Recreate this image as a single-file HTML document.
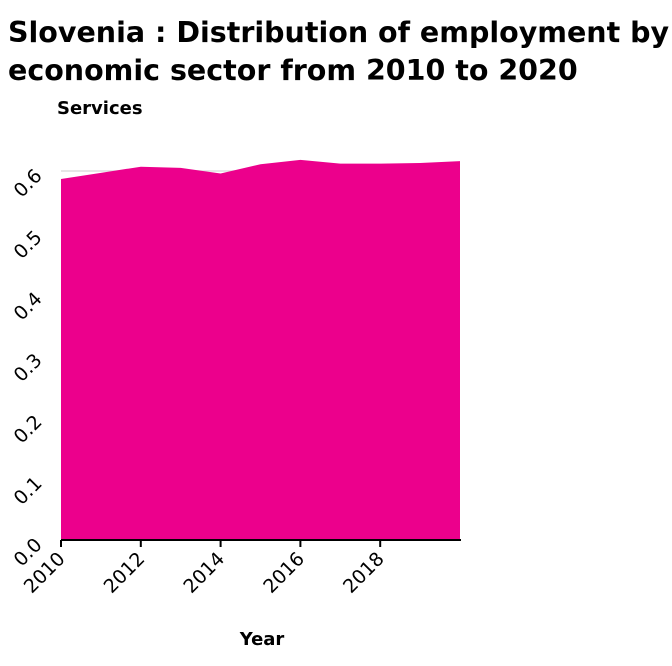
<!DOCTYPE html>
<html><head><meta charset="utf-8"><style>
body{margin:0;background:#fff;font-family:"DejaVu Sans","Liberation Sans",sans-serif}
</style></head><body>
<svg width="672" height="662" xmlns="http://www.w3.org/2000/svg">
<text x="8" y="42" font-size="28.5" font-weight="bold">Slovenia : Distribution of employment by</text>
<text x="8" y="80" font-size="28.5" font-weight="bold">economic sector from 2010 to 2020</text>
<text x="57" y="114" font-size="18" font-weight="bold">Services</text>
<text x="262" y="645" font-size="18" font-weight="bold" text-anchor="middle">Year</text>
<g id="g"></g>
</svg>
<script>
const years=[2010,2011,2012,2013,2014,2015,2016,2017,2018,2019,2020];
const services=[0.587,0.597,0.607,0.605,0.596,0.611,0.618,0.612,0.612,0.613,0.616];
const yTicks=[0,0.1,0.2,0.3,0.4,0.5,0.6];
const yTickLabels=["0.0","0.1","0.2","0.3","0.4","0.5","0.6"];
const xTicks=[2010,2012,2014,2016,2018];
const NS="http://www.w3.org/2000/svg";
const g=document.getElementById('g');
const X=v=>61+(v-2010)*39.9;
const Y=v=>540-v*615;
function mk(t,a){const e=document.createElementNS(NS,t);for(const k in a)e.setAttribute(k,a[k]);g.appendChild(e);return e;}
yTicks.forEach((t,i)=>{
  const l=mk('line',{x1:61,x2:460,y1:Y(t),y2:Y(t),stroke:'#ddd','stroke-width':1.5});
  
  
  const tx=mk('text',{x:43,y:Y(t)+6,'font-size':19,'text-anchor':'end',transform:`rotate(-45 43 ${Y(t)+6})`});
  tx.textContent=yTickLabels[i];
  
  
});
let d=`M${X(years[0])},${Y(0)}`;
years.forEach((y,i)=>{d+=`L${X(y)},${Y(services[i])}`;});
d+=`L${X(years[years.length-1])},${Y(0)}Z`;
const a=mk('path',{d:d,fill:'#ec008c'});


const ax=mk('line',{x1:61,x2:461,y1:540,y2:540,stroke:'#000','stroke-width':2});


xTicks.forEach(t=>{
  const tk=mk('line',{x1:X(t),x2:X(t),y1:540,y2:547,stroke:'#000','stroke-width':2});
  
  
  const tx=mk('text',{x:X(t)+5,y:560,'font-size':19,'text-anchor':'end',transform:`rotate(-45 ${X(t)+5} 560)`});
  tx.textContent=t;
  
  
});
</script>
</body></html>
